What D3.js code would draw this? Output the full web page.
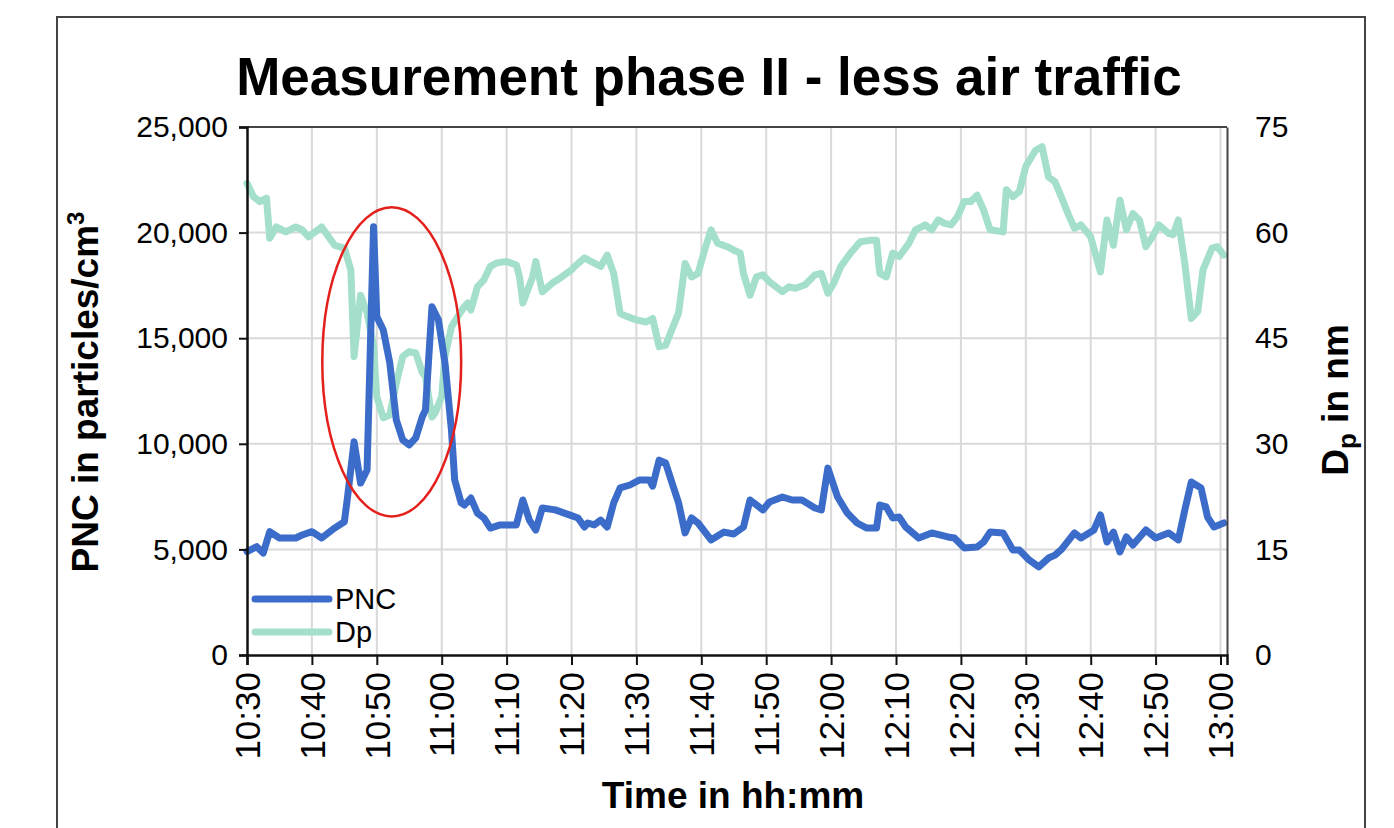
<!DOCTYPE html>
<html>
<head>
<meta charset="utf-8">
<script src="https://cdn.jsdelivr.net/npm/d3@7"></script>
<style>
  body { margin: 0; background: #fff; }
  svg { font-family: "Liberation Sans", Arial, sans-serif; }
</style>
</head>
<body>
<div id="chart"></div>
<script>
// minutes after 10:30 and values
let pncMinutes = [0, 1.5, 2.5, 3.5, 5, 7.5, 8.5, 10, 11.5, 13.5, 15, 15.5, 16.5, 17.5, 18.5, 19.5, 20, 21, 22, 23, 24, 25, 26, 27, 27.5, 28.5, 29.5, 30.5, 31.5, 32, 33, 33.5, 34.5, 35.5, 36.5, 37.5, 39, 41.5, 42.5, 43.5, 44.5, 45.5, 47.5, 50, 51, 52, 52.5, 53.5, 54.5, 55.5, 56.5, 57.5, 59, 60.5, 62, 62.5, 63.5, 64.5, 65.5, 66.5, 67.5, 68.5, 69.5, 71.5, 73.5, 75, 76.5, 77.5, 79.5, 80.5, 82.5, 84, 85.5, 87.5, 88.5, 89.5, 91, 92.5, 94, 95.5, 97, 97.5, 98.5, 99.5, 100.5, 101.5, 103.5, 105.5, 108, 109, 110.5, 112.5, 113.5, 114.5, 116.5, 118, 119, 120.5, 122, 123.5, 124.5, 125.5, 127.5, 128.5, 130.5, 131.5, 132.5, 133.5, 134.5, 135.5, 136.5, 138.5, 140, 142, 143.5, 144.5, 145.5, 147, 148, 149, 150.5];
let pncValues = [4900, 5130, 4830, 5840, 5540, 5540, 5680, 5840, 5540, 6010, 6310, 7500, 10100, 8140, 8760, 20280, 16020, 15390, 13830, 11130, 10180, 9950, 10280, 11270, 11600, 16490, 15860, 13830, 10650, 8290, 7200, 7100, 7430, 6720, 6490, 6010, 6160, 6160, 7340, 6390, 5920, 6960, 6870, 6600, 6490, 6060, 6250, 6160, 6390, 6060, 7200, 7910, 8050, 8290, 8290, 8000, 9230, 9090, 8140, 7200, 5780, 6490, 6250, 5450, 5820, 5730, 6060, 7340, 6870, 7240, 7480, 7340, 7340, 6960, 6870, 8850, 7480, 6720, 6250, 6010, 6010, 7100, 7010, 6490, 6530, 6060, 5540, 5780, 5590, 5540, 5070, 5110, 5350, 5820, 5780, 4970, 4970, 4500, 4170, 4590, 4730, 5000, 5780, 5540, 5920, 6630, 5350, 5820, 4880, 5590, 5210, 5920, 5540, 5780, 5450, 6870, 8190, 7910, 6530, 6060, 6250];

let dpMinutes = [0, 1, 2, 3, 3.5, 4.5, 6, 7.5, 8.5, 9.5, 10.5, 11.5, 13.5, 15, 16, 16.5, 17.5, 18.5, 19.5, 20, 21, 22, 23, 24, 25, 26, 27, 27.5, 28.5, 29, 30, 30.5, 31.5, 32.5, 33.5, 34, 34.5, 35.5, 36.5, 37.5, 38.5, 40, 41.5, 42, 42.5, 44, 44.5, 45.5, 47, 48.5, 50, 50.5, 52, 53, 54.5, 55.5, 56.5, 57.5, 58.5, 60, 61.5, 62.5, 63.5, 64.5, 66.5, 67.5, 68.5, 69.5, 70.5, 71.5, 72.5, 74, 75, 76, 76.5, 77.5, 78.5, 79.5, 80.5, 81.5, 82.5, 83.5, 84.5, 86, 87.5, 88.5, 89.5, 90.5, 91.5, 93, 94.5, 96, 97, 97.5, 98.5, 99.5, 100.5, 102, 103, 104.5, 105.5, 106.5, 107.5, 108.5, 109.5, 110.5, 111.5, 112.5, 113.5, 114.5, 116.5, 117, 118, 119, 120, 121.5, 122.5, 123.5, 124.5, 125.5, 126.5, 127.5, 128.5, 130, 131.5, 132.5, 133.5, 134.5, 135.5, 136.5, 137.5, 138.5, 139.5, 140.5, 142, 142.7, 143.5, 144.5, 145.5, 146.5, 147.3, 148.7, 149.5, 150.5];
let dpValues = [67.0, 65.1, 64.4, 64.9, 59.2, 60.8, 60.1, 60.8, 60.4, 59.4, 60.1, 60.8, 58.2, 57.8, 54.7, 42.4, 51.1, 48.6, 43.8, 36.7, 33.7, 34.1, 38.6, 42.4, 43.1, 42.9, 40.1, 39.5, 33.8, 34.4, 36.7, 42.4, 46.6, 48.1, 49.5, 50.0, 49.0, 52.3, 53.3, 55.2, 55.7, 55.9, 55.4, 53.7, 50.0, 53.7, 55.9, 51.6, 52.8, 53.7, 54.7, 55.2, 56.4, 55.9, 55.2, 56.8, 54.2, 48.5, 48.1, 47.6, 47.3, 47.8, 43.8, 44.0, 48.6, 55.6, 53.7, 54.2, 57.5, 60.4, 58.5, 58.0, 57.5, 57.1, 54.2, 51.1, 53.7, 54.0, 53.0, 52.3, 51.6, 52.3, 52.1, 52.6, 54.0, 54.2, 51.4, 53.0, 55.2, 57.1, 58.7, 58.9, 58.9, 54.2, 53.7, 57.1, 56.6, 58.5, 60.4, 61.1, 60.4, 61.8, 61.3, 61.1, 62.3, 64.4, 64.4, 65.3, 63.2, 60.4, 60.1, 66.1, 65.1, 65.8, 69.4, 71.7, 72.2, 67.9, 67.2, 65.0, 62.7, 60.6, 61.1, 59.4, 54.4, 61.8, 58.2, 64.6, 60.4, 62.7, 61.8, 58.0, 59.4, 61.1, 59.9, 59.7, 61.8, 55.6, 47.8, 48.8, 54.7, 57.8, 58.0, 56.8];

let pncTicks = [0, 5000, 10000, 15000, 20000, 25000];
let dpTicks = [0, 15, 30, 45, 60, 75];
let legendNames = ["PNC", "Dp"];
// highlighted event: [start min, end min, low PNC, high PNC]
let eventBox = [11.6, 33.0, 6560, 21200];

const W = 1394, H = 828;
const colPNC = "#3b6cc9", colDp = "#a3dfca";
const font = '"Liberation Sans", Arial, sans-serif';

const base = new Date(2000, 0, 1, 10, 30);
const toDate = m => new Date(base.getTime() + m * 60000);

const svg = d3.select("#chart").append("svg").attr("width", W).attr("height", H);

// outer frame
svg.append("rect").attr("x", 57).attr("y", 17).attr("width", 1308).attr("height", 840)
  .attr("fill", "none").attr("stroke", "#444").attr("stroke-width", 2);

const plot = {left: 247, right: 1227, top: 127, bottom: 655};

const x = d3.scaleTime().domain([toDate(0), toDate(151)]).range([plot.left, plot.right]);
const y = d3.scaleLinear().domain([0, 25000]).range([plot.bottom, plot.top]);
const y2 = d3.scaleLinear().domain([0, 75]).range([plot.bottom, plot.top]);
const xTicks = d3.timeMinute.every(10).range(toDate(0), toDate(151));

// grid
svg.append("g").selectAll("line").data(pncTicks.slice(1, -1)).join("line")
  .attr("x1", plot.left).attr("x2", plot.right)
  .attr("y1", d => y(d)).attr("y2", d => y(d))
  .attr("stroke", "#d9d9d9").attr("stroke-width", 2);
svg.append("g").selectAll("line").data(xTicks.slice(1)).join("line")
  .attr("x1", d => x(d)).attr("x2", d => x(d))
  .attr("y1", plot.top).attr("y2", plot.bottom)
  .attr("stroke", "#d9d9d9").attr("stroke-width", 2);

// frame top / right
svg.append("line").attr("x1", plot.left).attr("x2", plot.right).attr("y1", plot.top).attr("y2", plot.top)
  .attr("stroke", "#444").attr("stroke-width", 2);

// lines
const dpData = dpMinutes.map((m, i) => ({t: toDate(m), v: dpValues[i]}));
const pncData = pncMinutes.map((m, i) => ({t: toDate(m), v: pncValues[i]}));

svg.append("path").datum(dpData)
  .attr("d", d3.line().x(d => x(d.t)).y(d => y2(d.v)))
  .attr("fill", "none").attr("stroke", colDp).attr("stroke-width", 7)
  .attr("stroke-linejoin", "round").attr("stroke-linecap", "round");
svg.append("path").datum(pncData)
  .attr("d", d3.line().x(d => x(d.t)).y(d => y(d.v)))
  .attr("fill", "none").attr("stroke", colPNC).attr("stroke-width", 7)
  .attr("stroke-linejoin", "round").attr("stroke-linecap", "round");

// red ellipse annotation
const ex0 = x(toDate(eventBox[0])), ex1 = x(toDate(eventBox[1]));
const ey0 = y(eventBox[2]), ey1 = y(eventBox[3]);
svg.append("ellipse")
  .attr("cx", (ex0 + ex1) / 2).attr("cy", (ey0 + ey1) / 2)
  .attr("rx", (ex1 - ex0) / 2).attr("ry", (ey0 - ey1) / 2)
  .attr("fill", "none").attr("stroke", "#e3201c").attr("stroke-width", 2.5);

// axes
const axL = svg.append("g").attr("transform", `translate(${plot.left},0)`)
  .call(d3.axisLeft(y).tickValues(pncTicks).tickFormat(d3.format(",")).tickSize(8).tickPadding(11));
const axR = svg.append("g").attr("transform", `translate(${plot.right},0)`)
  .call(d3.axisRight(y2).tickValues(dpTicks).tickSize(0).tickPadding(28));
const axB = svg.append("g").attr("transform", `translate(0,${plot.bottom})`)
  .call(d3.axisBottom(x).tickValues(xTicks).tickFormat(d3.timeFormat("%H:%M")).tickSize(10));

[axL, axR, axB].forEach(g => {
  g.select(".domain").attr("stroke", "#111").attr("stroke-width", 2.5);
  g.selectAll(".tick line").attr("stroke", "#111").attr("stroke-width", 2);
  g.selectAll("text").attr("font-family", font).attr("font-size", 30).attr("fill", "#000");
});
axR.select(".domain").attr("stroke", "#444").attr("stroke-width", 2);
axB.selectAll("text")
  .attr("font-size", 35)
  .attr("transform", "rotate(-90)")
  .attr("x", -17).attr("y", 0).attr("dy", "0.35em")
  .attr("text-anchor", "end");

// titles
svg.append("text").attr("x", 709).attr("y", 95).attr("text-anchor", "middle")
  .attr("font-size", 53).attr("font-weight", "bold").text("Measurement phase II - less air traffic");

const tl = svg.append("text").attr("transform", "translate(98,392) rotate(-90)")
  .attr("text-anchor", "middle").attr("font-size", 37).attr("font-weight", "bold");
tl.append("tspan").text("PNC in particles/cm");
tl.append("tspan").attr("dy", -14).attr("font-size", 24).text("3");

const tr = svg.append("text").attr("transform", "translate(1348,400) rotate(-90)")
  .attr("text-anchor", "middle").attr("font-size", 37).attr("font-weight", "bold");
tr.append("tspan").text("D");
tr.append("tspan").attr("dy", 8).attr("font-size", 26).text("p");
tr.append("tspan").attr("dy", -8).text(" in nm");

svg.append("text").attr("x", 733).attr("y", 808).attr("text-anchor", "middle")
  .attr("font-size", 37).attr("font-weight", "bold").text("Time in hh:mm");

// legend
const leg = svg.append("g").selectAll("g").data(legendNames).join("g")
  .attr("transform", (d, i) => `translate(255,${599 + i * 33})`);
leg.append("line").attr("x1", 0).attr("x2", 74)
  .attr("stroke", (d, i) => i === 0 ? colPNC : colDp).attr("stroke-width", 7)
  .attr("stroke-linecap", "round");
leg.append("text").attr("x", 80).attr("dy", "0.36em").attr("font-size", 29).text(d => d);
</script>
</body>
</html>
